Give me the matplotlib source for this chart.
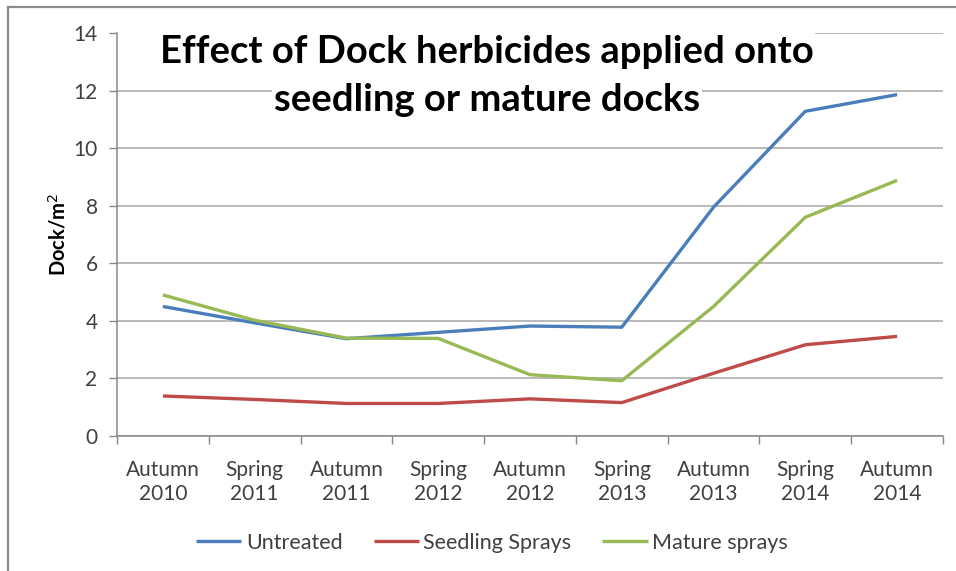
import numpy as np
import matplotlib
matplotlib.use("Agg")
import matplotlib.pyplot as plt
from matplotlib.lines import Line2D
from matplotlib.patches import Rectangle

# data
seasons = ["Autumn\n2010", "Spring\n2011", "Autumn\n2011", "Spring\n2012", "Autumn\n2012",
           "Spring\n2013", "Autumn\n2013", "Spring\n2014", "Autumn\n2014"]
untreated = [4.50, 3.93, 3.38, 3.60, 3.82, 3.78, 7.95, 11.28, 11.86]
seedling = [1.39, 1.27, 1.13, 1.13, 1.29, 1.16, 2.18, 3.17, 3.46]
mature = [4.90, 4.02, 3.40, 3.39, 2.13, 1.92, 4.50, 7.60, 8.88]
title_lines = ["Effect of Dock herbicides applied onto", "seedling or mature docks"]

plt.rcParams['font.family'] = ['Lato', 'DejaVu Sans']

fig = plt.figure(figsize=(9.56, 5.71), dpi=100)
ax = fig.add_axes([117/956, 1-436/571, 826/956, 403/571])

x = np.arange(len(seasons))
ax.plot(x, untreated, color='#4A7EBB', lw=2.4, label='Untreated', solid_capstyle='butt', zorder=3)
ax.plot(x, seedling, color='#BE4B48', lw=2.4, label='Seedling Sprays', solid_capstyle='butt', zorder=3)
ax.plot(x, mature, color='#98B954', lw=2.4, label='Mature sprays', solid_capstyle='butt', zorder=3)

ax.set_xlim(-0.5, len(seasons)-0.5)
ax.set_ylim(0, 14)
ax.set_yticks(range(0, 15, 2))
ax.yaxis.grid(True, color='#a6a6a6', lw=1.1)
ax.set_axisbelow(True)
ax.set_xticks(x)
ax.set_xticklabels(seasons, fontsize=15, color='#404040', linespacing=1.3)
ax.set_xticks(np.arange(-0.5, len(seasons)), minor=True)
ax.tick_params(axis='x', which='major', length=0, pad=17)
ax.tick_params(axis='x', which='minor', length=6, color='#888888', width=1)
ax.tick_params(axis='y', length=6, color='#888888', width=1, labelsize=15, labelcolor='#404040', pad=8)
for s in ['top', 'right']:
    ax.spines[s].set_visible(False)
for s in ['left', 'bottom']:
    ax.spines[s].set_color('#888888')
    ax.spines[s].set_linewidth(1.1)

ax.set_ylabel('Dock/m$^2$', fontsize=14.5, fontweight='bold', labelpad=3)

# white box behind the title hides the top gridline
ax.add_patch(Rectangle((0, 0.975), 0.8, 0.03, transform=ax.transAxes, facecolor='white',
                       edgecolor='none', clip_on=False, zorder=1))
for txt, ypx in zip(title_lines, [52, 100]):
    ax.text((487-117)/826, (436-ypx)/403, txt, transform=ax.transAxes, ha='center', va='center',
            fontsize=27.5, fontweight='bold', zorder=2,
            bbox=dict(facecolor='white', edgecolor='none', pad=1))

fig.legend(loc='center', bbox_to_anchor=(492/956, 1-543/571), ncol=3, frameon=False,
           fontsize=15.5, handlelength=2.1, handletextpad=0.2, columnspacing=1.45,
           labelcolor='#404040')

# outer chart frame
fig.add_artist(Line2D([8/956, 8/956], [0, 1-7/571], color='#8c8c8c', lw=1.6))
fig.add_artist(Line2D([8/956, 1], [1-7/571, 1-7/571], color='#8c8c8c', lw=1.6))

fig.savefig('out.png', dpi=100)
